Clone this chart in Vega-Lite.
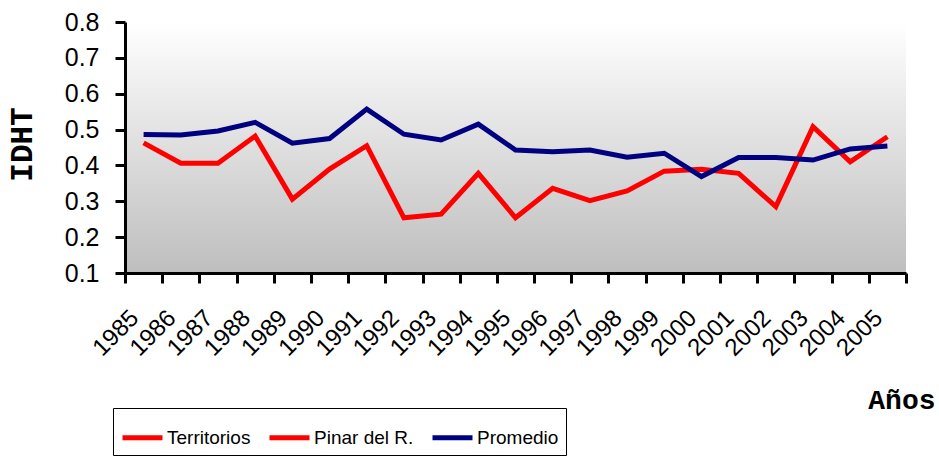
{
  "$schema": "https://vega.github.io/schema/vega-lite/v6.json",
  "width": 781,
  "height": 251,
  "autosize": "none",
  "padding": {"left": 125, "top": 22, "right": 33, "bottom": 196},
  "background": "white",
  "view": {
    "fill": {"gradient": "linear", "x1": 0, "y1": 0, "x2": 0, "y2": 1,
      "stops": [{"offset": 0, "color": "#ffffff"}, {"offset": 1, "color": "#bebebe"}]},
    "stroke": null
  },
  "data": {
    "values": [
      {"year": "1985", "series": "Pinar del R.", "value": 0.463},
      {"year": "1986", "series": "Pinar del R.", "value": 0.406},
      {"year": "1987", "series": "Pinar del R.", "value": 0.406},
      {"year": "1988", "series": "Pinar del R.", "value": 0.482},
      {"year": "1989", "series": "Pinar del R.", "value": 0.306},
      {"year": "1990", "series": "Pinar del R.", "value": 0.39},
      {"year": "1991", "series": "Pinar del R.", "value": 0.455},
      {"year": "1992", "series": "Pinar del R.", "value": 0.254},
      {"year": "1993", "series": "Pinar del R.", "value": 0.264},
      {"year": "1994", "series": "Pinar del R.", "value": 0.378},
      {"year": "1995", "series": "Pinar del R.", "value": 0.254},
      {"year": "1996", "series": "Pinar del R.", "value": 0.336},
      {"year": "1997", "series": "Pinar del R.", "value": 0.302},
      {"year": "1998", "series": "Pinar del R.", "value": 0.329},
      {"year": "1999", "series": "Pinar del R.", "value": 0.384},
      {"year": "2000", "series": "Pinar del R.", "value": 0.389},
      {"year": "2001", "series": "Pinar del R.", "value": 0.378},
      {"year": "2002", "series": "Pinar del R.", "value": 0.285},
      {"year": "2003", "series": "Pinar del R.", "value": 0.508},
      {"year": "2004", "series": "Pinar del R.", "value": 0.41},
      {"year": "2005", "series": "Pinar del R.", "value": 0.48},
      {"year": "1985", "series": "Promedio", "value": 0.486},
      {"year": "1986", "series": "Promedio", "value": 0.485},
      {"year": "1987", "series": "Promedio", "value": 0.496},
      {"year": "1988", "series": "Promedio", "value": 0.52},
      {"year": "1989", "series": "Promedio", "value": 0.462},
      {"year": "1990", "series": "Promedio", "value": 0.475},
      {"year": "1991", "series": "Promedio", "value": 0.557},
      {"year": "1992", "series": "Promedio", "value": 0.487},
      {"year": "1993", "series": "Promedio", "value": 0.471},
      {"year": "1994", "series": "Promedio", "value": 0.515},
      {"year": "1995", "series": "Promedio", "value": 0.443},
      {"year": "1996", "series": "Promedio", "value": 0.438},
      {"year": "1997", "series": "Promedio", "value": 0.443},
      {"year": "1998", "series": "Promedio", "value": 0.423},
      {"year": "1999", "series": "Promedio", "value": 0.434},
      {"year": "2000", "series": "Promedio", "value": 0.369},
      {"year": "2001", "series": "Promedio", "value": 0.422},
      {"year": "2002", "series": "Promedio", "value": 0.422},
      {"year": "2003", "series": "Promedio", "value": 0.415},
      {"year": "2004", "series": "Promedio", "value": 0.446},
      {"year": "2005", "series": "Promedio", "value": 0.454}
    ]
  },
  "mark": {"type": "line", "strokeWidth": 5, "strokeJoin": "miter"},
  "encoding": {
    "x": {
      "field": "year", "type": "ordinal",
      "scale": {"type": "band", "paddingInner": 0, "paddingOuter": 0},
      "axis": {
        "title": "Años",
        "titleFont": "Liberation Mono, DejaVu Sans Mono, monospace", "titleFontWeight": "bold", "titleFontSize": 28, "titleColor": "black",
        "titleAlign": "right", "titleBaseline": "alphabetic", "titleX": 810, "titleY": 135,
        "labelAngle": -45, "labelAlign": "right", "labelBaseline": "middle",
        "labelFont": "Liberation Sans", "labelFontSize": 24, "labelColor": "black", "labelPadding": 31, "labelOffset": -9,
        "tickBand": "extent", "tickColor": "black", "tickWidth": 3, "tickSize": 10,
        "domainColor": "black", "domainWidth": 3, "grid": false
      }
    },
    "y": {
      "field": "value", "type": "quantitative",
      "scale": {"domain": [0.1, 0.8], "nice": false, "zero": false},
      "axis": {
        "title": "IDHT",
        "titleFont": "Liberation Mono, DejaVu Sans Mono, monospace", "titleFontWeight": "bold", "titleFontSize": 31, "titleColor": "black",
        "titlePadding": 26, "titleY": 122,
        "values": [0.1, 0.2, 0.3, 0.4, 0.5, 0.6, 0.7, 0.8], "format": ".1f",
        "labelFont": "Liberation Sans", "labelFontSize": 25, "labelColor": "black", "labelPadding": 16,
        "tickColor": "black", "tickWidth": 3, "tickSize": 10,
        "domainColor": "black", "domainWidth": 3, "grid": false
      }
    },
    "color": {
      "field": "series", "type": "nominal",
      "scale": {"domain": ["Territorios", "Pinar del R.", "Promedio"], "range": ["#ff0000", "#ff0000", "#000080"]},
      "legend": {
        "title": null, "orient": "none", "direction": "horizontal",
        "legendX": -12, "legendY": 386,
        "strokeColor": "black", "fillColor": "white", "padding": 7,
        "symbolType": "stroke", "symbolSize": 1600, "symbolStrokeWidth": 5,
        "labelFont": "Liberation Sans", "labelFontSize": 19, "labelColor": "black",
        "labelOffset": 2, "columnPadding": 8, "labelLimit": 300
      }
    }
  }
}
